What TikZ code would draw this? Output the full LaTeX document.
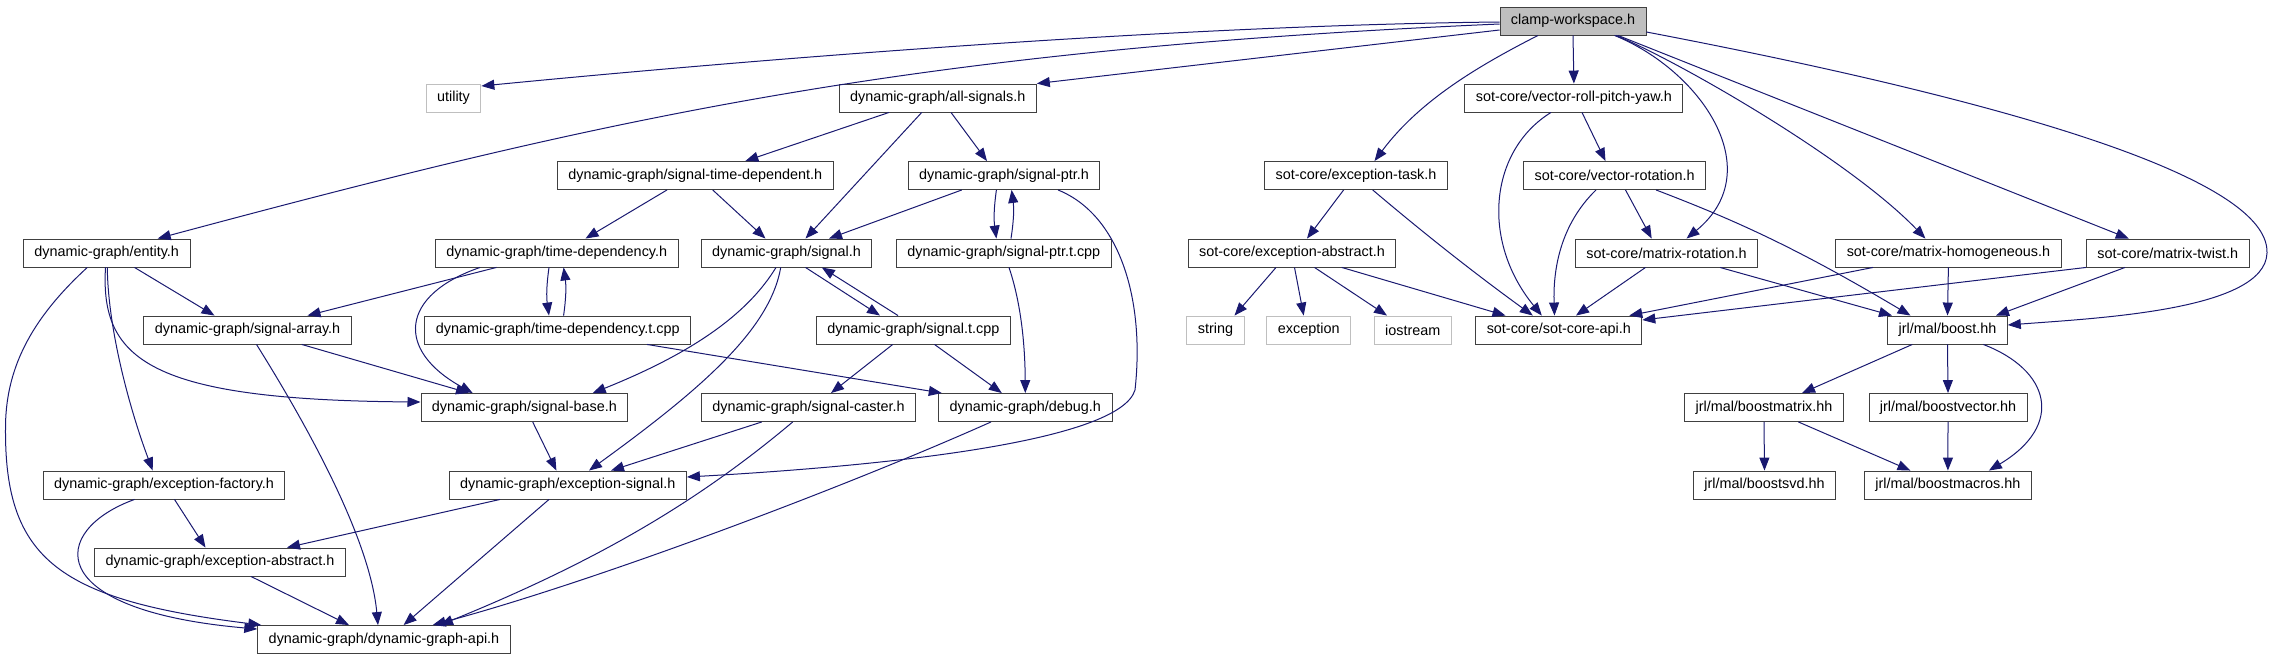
\documentclass[tikz,border=0pt]{standalone}
\usepackage{fontspec}
\setmainfont{Liberation Sans}
\usetikzlibrary{arrows.meta}
\definecolor{edgeblue}{HTML}{191970}

\begin{document}
\begin{tikzpicture}[x=1pt,y=1pt,line width=1pt,>={Triangle[length=13pt,width=10pt]},
  file/.style={draw=black!75,line width=0.9pt,fill=white,inner xsep=11pt,inner ysep=0pt,
    minimum height=28pt,font=\fontsize{14.4}{16}\selectfont},
  sysfile/.style={file,draw=black!25},
  dep/.style={->,draw=edgeblue,line width=1pt}]
\useasboundingbox (0,0) rectangle (2276,-659);
% 第 0、1 行
\node[file,fill=black!25] (cw) at (1573,-21) {clamp-workspace.h};
\node[sysfile] (utility) at (453.5,-98) {utility};
\node[file] (allsig) at (937.7,-98) {dynamic-graph/all-signals.h};
\node[file] (vrpy) at (1573.9,-98) {sot-core/vector-roll-pitch-yaw.h};
% 第 2 行
\node[file] (sigtd) at (695.3,-175.5) {dynamic-graph/signal-time-dependent.h};
\node[file] (sigptr) at (1004,-175.5) {dynamic-graph/signal-ptr.h};
\node[file] (exctask) at (1356,-175.5) {sot-core/exception-task.h};
\node[file] (vrot) at (1614.7,-175.5) {sot-core/vector-rotation.h};
% 第 3 行
\node[file] (entity) at (106.7,-253) {dynamic-graph/entity.h};
\node[file] (timedep) at (556.8,-253) {dynamic-graph/time-dependency.h};
\node[file] (signal) at (786.5,-253) {dynamic-graph/signal.h};
\node[file] (sigptrt) at (1003.8,-253) {dynamic-graph/signal-ptr.t.cpp};
\node[file] (sotexcabs) at (1292,-253) {sot-core/exception-abstract.h};
\node[file] (matrot) at (1666.5,-253) {sot-core/matrix-rotation.h};
\node[file] (mathom) at (1948.4,-253) {sot-core/matrix-homogeneous.h};
\node[file] (mattwist) at (2167.8,-253) {sot-core/matrix-twist.h};
% 第 4 行
\node[file] (sigarray) at (247.5,-330) {dynamic-graph/signal-array.h};
\node[file] (timedept) at (557.8,-330) {dynamic-graph/time-dependency.t.cpp};
\node[file] (sigt) at (913.3,-330) {dynamic-graph/signal.t.cpp};
\node[sysfile] (string) at (1215.5,-330) {string};
\node[sysfile] (exception) at (1308.7,-330) {exception};
\node[sysfile] (iostream) at (1412.7,-330) {iostream};
\node[file] (sotapi) at (1558.8,-330) {sot-core/sot-core-api.h};
\node[file] (boost) at (1947.5,-330) {jrl/mal/boost.hh};
% 第 5、6 行
\node[file] (sigbase) at (524.4,-407.5) {dynamic-graph/signal-base.h};
\node[file] (sigcaster) at (808.5,-407.5) {dynamic-graph/signal-caster.h};
\node[file] (debug) at (1025.3,-407.5) {dynamic-graph/debug.h};
\node[file] (boostmatrix) at (1764,-407.5) {jrl/mal/boostmatrix.hh};
\node[file] (boostvector) at (1948,-407.5) {jrl/mal/boostvector.hh};
\node[file] (excfactory) at (164,-485) {dynamic-graph/exception-factory.h};
\node[file] (excsignal) at (567.8,-485) {dynamic-graph/exception-signal.h};
\node[file] (boostsvd) at (1764.5,-485) {jrl/mal/boostsvd.hh};
\node[file] (boostmacros) at (1947.9,-485) {jrl/mal/boostmacros.hh};
% 第 7、8 行
\node[file] (dgexcabs) at (220,-562) {dynamic-graph/exception-abstract.h};
\node[file] (dgapi) at (384,-639.5) {dynamic-graph/dynamic-graph-api.h};
% clamp-workspace.h 的依赖
\draw[dep] ([yshift=-1pt]cw.west) .. controls (1200,-25) and (800,-55) .. ([yshift=12pt]utility.east);
\draw[dep] ([yshift=-3pt]cw.west) .. controls (900,-50) and (600,-120) .. ([xshift=51pt]entity.north);
\draw[dep] ([yshift=-9pt]cw.west) -- (allsig.north east);
\draw[dep] ([xshift=-35pt]cw.south) .. controls (1480,-65) and (1420,-100) .. ([xshift=18.5pt]exctask.north);
\draw[dep] (cw.south) -- (vrpy.north);
\draw[dep] ([xshift=41.5pt]cw.south) .. controls (1700,-70) and (1770,-170) .. ([xshift=20pt]matrot.north);
\draw[dep] ([xshift=43pt]cw.south) .. controls (1680,-62) and (1850,-160) .. ([xshift=-23pt]mathom.north);
\draw[dep] ([xshift=45pt]cw.south) -- ([xshift=-39pt]mattwist.north);
\draw[dep] ([yshift=-11pt]cw.east) .. controls (1950,-90) and (2270,-170) .. (2267,-253)
  .. controls (2265,-310) and (2100,-318) .. ([yshift=5pt]boost.east);
% dynamic-graph 部分
\draw[dep] ([xshift=-48.7pt]allsig.south) -- ([xshift=50pt]sigtd.north);
\draw[dep] ([xshift=-16pt]allsig.south) -- ([xshift=19pt]signal.north);
\draw[dep] ([xshift=13.3pt]allsig.south) -- ([xshift=-17pt]sigptr.north);
\draw[dep] ([xshift=-28.3pt]sigtd.south) -- ([xshift=28.7pt]timedep.north);
\draw[dep] ([xshift=17.4pt]sigtd.south) -- ([xshift=-21pt]signal.north);
\draw[dep] ([xshift=-42.2pt]sigptr.south) -- ([xshift=42.5pt]signal.north);
\draw[dep] ([xshift=-7.6pt]sigptr.south) to[bend right=8] ([xshift=-7.4pt]sigptrt.north);
\draw[dep] ([xshift=7.2pt]sigptrt.north) to[bend right=8] ([xshift=7.6pt]sigptr.south);
\draw[dep] ([xshift=54pt]sigptr.south) .. controls (1120,-215) and (1145,-300) .. (1135,-390)
  .. controls (1120,-440) and (900,-465) .. ([yshift=8pt]excsignal.east);
\draw[dep] ([xshift=-60.4pt]timedep.south) -- ([xshift=60pt]sigarray.north);
\draw[dep] ([xshift=-76.8pt]timedep.south) .. controls (400,-295) and (395,-350) .. ([xshift=-51.7pt]sigbase.north);
\draw[dep] ([xshift=-7.8pt]timedep.south) to[bend right=8] ([xshift=-8.8pt]timedept.north);
\draw[dep] ([xshift=5.8pt]timedept.north) to[bend right=8] ([xshift=6.8pt]timedep.south);
\draw[dep] ([xshift=89.2pt]timedept.south) -- ([xshift=-83.5pt]debug.north);
\draw[dep] ([xshift=-10.5pt]signal.south) .. controls (750,-310) and (700,-350) .. ([xshift=68.3pt]sigbase.north);
\draw[dep] ([xshift=-5.8pt]signal.south) .. controls (770,-330) and (700,-390) .. ([xshift=21.2pt]excsignal.north);
\draw[dep] ([xshift=19pt]signal.south) -- ([xshift=-33.3pt]sigt.north);
\draw[dep] ([xshift=-15.3pt]sigt.north) -- ([xshift=35.3pt]signal.south);
\draw[dep] ([xshift=5.2pt]sigptrt.south) .. controls (1020,-300) and (1025,-340) .. (debug.north);
\draw[dep] ([xshift=-20.6pt]sigt.south) -- ([xshift=22.5pt]sigcaster.north);
\draw[dep] ([xshift=21.2pt]sigt.south) -- ([xshift=-23.5pt]debug.north);
\draw[dep] ([xshift=54.3pt]sigarray.south) -- ([xshift=-55.4pt]sigbase.north);
\draw[dep] ([xshift=9pt]sigarray.south) .. controls (310,-430) and (370,-540) .. ([xshift=-6pt]dgapi.north);
\draw[dep] ([xshift=8.3pt]sigbase.south) -- ([xshift=-11.4pt]excsignal.north);
\draw[dep] ([xshift=-46.7pt]sigcaster.south) -- ([xshift=43.2pt]excsignal.north);
\draw[dep] ([xshift=-15.8pt]sigcaster.south) .. controls (700,-500) and (600,-560) .. ([xshift=56pt]dgapi.north);
\draw[dep] ([xshift=-34.3pt]debug.south) .. controls (850,-485) and (600,-580) .. ([xshift=48.7pt]dgapi.north);
\draw[dep] ([xshift=27.8pt]entity.south) -- ([xshift=-33pt]sigarray.north);
\draw[dep] ([xshift=-1.2pt]entity.south) .. controls (100,-360) and (150,-400) .. ([yshift=5.5pt]sigbase.west);
\draw[dep] ([xshift=0.6pt]entity.south) .. controls (108,-330) and (130,-410) .. ([xshift=-11.3pt]excfactory.north);
\draw[dep] ([xshift=-19.4pt]entity.south) .. controls (30,-320) and (5,-370) .. (5.5,-430)
  .. controls (5,-560) and (60,-600) .. ([xshift=4pt]dgapi.north west);
\draw[dep] ([xshift=10.5pt]excfactory.south) -- ([xshift=-14.5pt]dgexcabs.north);
\draw[dep] ([xshift=-29.5pt]excfactory.south) .. controls (50,-530) and (40,-610) .. ([yshift=-4pt]dgapi.north west);
\draw[dep] ([xshift=-67.8pt]excsignal.south) -- ([xshift=67pt]dgexcabs.north);
\draw[dep] ([xshift=-18.8pt]excsignal.south) -- ([xshift=19.6pt]dgapi.north);
\draw[dep] ([xshift=31pt]dgexcabs.south) -- ([xshift=-35pt]dgapi.north);
% sot-core 部分
\draw[dep] ([xshift=-12.4pt]exctask.south) -- ([xshift=15pt]sotexcabs.north);
\draw[dep] ([xshift=16.7pt]exctask.south) .. controls (1420,-230) and (1470,-270) .. ([xshift=-26pt]sotapi.north);
\draw[dep] ([xshift=-16pt]sotexcabs.south) -- ([xshift=19pt]string.north);
\draw[dep] ([xshift=2.5pt]sotexcabs.south) -- ([xshift=-5pt]exception.north);
\draw[dep] ([xshift=22.5pt]sotexcabs.south) -- ([xshift=-25.7pt]iostream.north);
\draw[dep] ([xshift=49.8pt]sotexcabs.south) -- ([xshift=-53.3pt]sotapi.north);
\draw[dep] ([xshift=-22.9pt]vrpy.south) .. controls (1490,-150) and (1480,-240) .. ([xshift=-17pt]sotapi.north);
\draw[dep] ([xshift=8.1pt]vrpy.south) -- ([xshift=-9.2pt]vrot.north);
\draw[dep] ([xshift=-18.7pt]vrot.south) .. controls (1560,-225) and (1553,-270) .. ([xshift=-4.3pt]sotapi.north);
\draw[dep] ([xshift=10.8pt]vrot.south) -- ([xshift=-14.8pt]matrot.north);
\draw[dep] ([xshift=41.3pt]vrot.south) .. controls (1740,-222) and (1800,-250) .. ([xshift=-37pt]boost.north);
\draw[dep] ([xshift=-21pt]matrot.south) -- ([xshift=17.2pt]sotapi.north);
\draw[dep] ([xshift=53.5pt]matrot.south) -- ([xshift=-55.5pt]boost.north);
\draw[dep] ([xshift=-75.4pt]mathom.south) -- ([xshift=-13pt]sotapi.north east);
\draw[dep] (mathom.south) -- (boost.north);
\draw[dep] (mattwist.south west) -- ([yshift=10pt]sotapi.east);
\draw[dep] ([xshift=-42.8pt]mattwist.south) -- ([xshift=48.5pt]boost.north);
% jrl/mal 部分
\draw[dep] ([xshift=-35.2pt]boost.south) -- ([xshift=38pt]boostmatrix.north);
\draw[dep] (boost.south) -- (boostvector.north);
\draw[dep] ([xshift=35.8pt]boost.south) .. controls (2050,-370) and (2065,-425) .. ([xshift=41pt]boostmacros.north);
\draw[dep] (boostmatrix.south) -- (boostsvd.north);
\draw[dep] ([xshift=34.4pt]boostmatrix.south) -- ([xshift=-37.4pt]boostmacros.north);
\draw[dep] (boostvector.south) -- (boostmacros.north);
\end{tikzpicture}
\end{document}
